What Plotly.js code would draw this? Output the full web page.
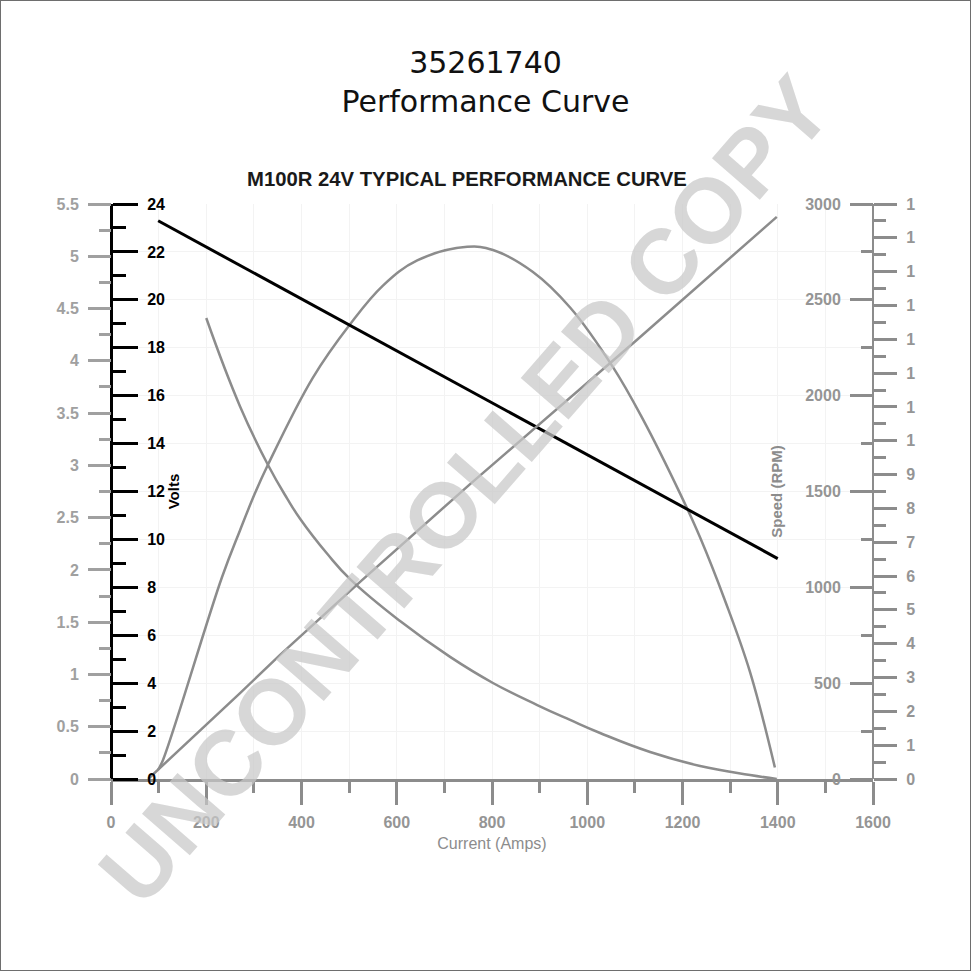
<!DOCTYPE html>
<html><head><meta charset="utf-8">
<script src="https://cdn.plot.ly/plotly-3.0.1.min.js"></script>
<style>
html,body{margin:0;padding:0;background:#fff;}
#frame{position:absolute;left:0;top:0;width:969px;height:969px;border:1px solid #6e6e6e;}
#chart{width:969px;height:969px;}
</style></head><body><div id="frame"><div id="chart"></div></div>
<script>
// ---- data ----
const voltsCurrent = [99, 1400];
const volts = [23.3, 9.2];

const powerCurrent = [99, 109, 233, 271, 302, 330, 424, 502, 571, 643, 748, 802, 886, 964, 1054, 1117, 1195, 1237, 1289, 1342, 1394];
const power = [0.09, 0.18, 1.93, 2.38, 2.73, 3.01, 3.84, 4.35, 4.72, 4.96, 5.09, 5.06, 4.85, 4.51, 3.94, 3.44, 2.73, 2.31, 1.71, 1.02, 0.11];

const speedCurrent = [200, 271, 330, 370, 397, 454, 502, 607, 712, 802, 895, 964, 1027, 1132, 1237, 1342, 1398];
const speed = [2405, 1944, 1637, 1463, 1358, 1175, 1043, 824, 637, 501, 386, 308, 240, 141, 68, 21, 0];

const torqueCurrent = [78, 107, 271, 355, 523, 754, 964, 1104, 1398];
const torque = [0, 0.38, 2.54, 3.67, 5.83, 8.72, 11.27, 12.98, 16.62];

const torqueTickVals = [0,1,2,3,4,5,6,7,8,9,10,11,12,13,14,15,16,17];
const torqueTickText = ["0","1","2","3","4","5","6","7","8","9","1","1","1","1","1","1","1","1"];

const titleText = "35261740<br>Performance Curve";
const chartTitle = "M100R 24V TYPICAL PERFORMANCE CURVE";
const watermark = "UNCONTROLLED COPY";

// ---- styling ----
const GREY = '#8c8c8c';
const LBL = '#959595';
const FONT = 'Liberation Sans, Arial, sans-serif';
const minorTorque = [];
for (let v = 0.5; v < 17; v += 1) minorTorque.push(v);

const traces = [
  {x: powerCurrent, y: power, yaxis: 'y', mode: 'lines', line: {color: GREY, width: 2.5, shape: 'spline', smoothing: 1.1}, name: 'Power'},
  {x: speedCurrent, y: speed, yaxis: 'y3', mode: 'lines', line: {color: GREY, width: 2.5, shape: 'spline', smoothing: 1.3}, name: 'Speed'},
  {x: torqueCurrent, y: torque, yaxis: 'y4', mode: 'lines', line: {color: GREY, width: 2.5}, name: 'Torque'},
  {x: voltsCurrent, y: volts, yaxis: 'y2', mode: 'lines', line: {color: '#000', width: 3}, name: 'Volts'}
];

const tickFontGrey = {family: FONT, size: 16, color: LBL, weight: 'bold'};

const layout = {
  width: 969, height: 969,
  margin: {l: 110, r: 97, t: 203, b: 191, pad: 0},
  paper_bgcolor: '#fff', plot_bgcolor: '#fff',
  showlegend: false,
  title: {text: titleText, font: {family: 'DejaVu Sans, sans-serif', size: 30, color: '#111'},
          x: 0.5, xref: 'container', xanchor: 'center', y: 0.926, yref: 'container', yanchor: 'top'},
  xaxis: {
    range: [0, 1600], tick0: 0, dtick: 200, ticks: 'outside', ticklen: 23, tickwidth: 3, tickcolor: GREY,
    showline: true, linecolor: GREY, linewidth: 3, zeroline: false,
    showgrid: true, gridcolor: '#f3f3f3', gridwidth: 1,
    minor: {dtick: 100, ticklen: 11, tickwidth: 3, tickcolor: GREY, showgrid: true, gridcolor: '#f3f3f3'},
    tickfont: tickFontGrey, ticklabelstandoff: 4,
    title: {text: 'Current (Amps)', font: {family: FONT, size: 16, color: GREY}, standoff: 8}
  },
  yaxis: {
    range: [0, 5.5], dtick: 0.5, anchor: 'free', position: 0, side: 'left',
    ticks: 'outside', ticklen: 23, tickwidth: 3, tickcolor: '#a0a0a0',
    showline: false, showgrid: false, zeroline: false,
    minor: {dtick: 0.25, ticklen: 12, tickwidth: 3, tickcolor: '#a0a0a0'},
    tickfont: {family: FONT, size: 16, color: '#a0a0a0', weight: 'bold'}, ticklabelstandoff: 6
  },
  yaxis2: {
    range: [0, 24], dtick: 2, overlaying: 'y', anchor: 'free', position: 0, side: 'right',
    ticks: 'outside', ticklen: 25, tickwidth: 3, tickcolor: '#000',
    showline: true, linecolor: '#000', linewidth: 3, zeroline: false,
    showgrid: true, gridcolor: '#f3f3f3',
    minor: {dtick: 1, ticklen: 13, tickwidth: 3, tickcolor: '#000'},
    tickfont: {family: FONT, size: 16, color: '#000', weight: 'bold'}, ticklabelstandoff: 6,
    title: {text: 'Volts', font: {family: FONT, size: 15, color: '#000', weight: 'bold'}, standoff: 0}
  },
  yaxis3: {
    range: [0, 3000], dtick: 500, overlaying: 'y', anchor: 'free', position: 1, side: 'left',
    ticks: 'outside', ticklen: 23, tickwidth: 3, tickcolor: GREY,
    showline: false, showgrid: false, zeroline: false,
    minor: {dtick: 250, ticklen: 12, tickwidth: 3, tickcolor: GREY},
    tickfont: tickFontGrey, ticklabelstandoff: 6,
    title: {text: 'Speed (RPM)', font: {family: FONT, size: 15, color: GREY, weight: 'bold'}, standoff: 17}
  },
  yaxis4: {
    range: [0, 17], overlaying: 'y', anchor: 'free', position: 1, side: 'right',
    tickmode: 'array', tickvals: torqueTickVals, ticktext: torqueTickText,
    ticks: 'outside', ticklen: 23, tickwidth: 3, tickcolor: GREY,
    showline: true, linecolor: GREY, linewidth: 2, showgrid: false, zeroline: false,
    minor: {tickmode: 'array', tickvals: minorTorque, ticklen: 12, tickwidth: 3, tickcolor: GREY},
    tickfont: tickFontGrey, ticklabelstandoff: 6
  },
  annotations: [
    {text: chartTitle, xref: 'paper', yref: 'paper', x: 0.467, y: 1.0435, xanchor: 'center', yanchor: 'middle',
     showarrow: false, font: {family: FONT, size: 20.3, color: '#1a1a1a', weight: 'bold'}},
    {text: watermark, xref: 'paper', yref: 'paper', x: 0.4646, y: 0.5026, xanchor: 'center', yanchor: 'middle',
     showarrow: false, textangle: -49, font: {family: FONT, size: 92, color: 'rgba(200,200,200,0.72)', weight: 'bold'}}
  ]
};

Plotly.newPlot('chart', traces, layout, {displayModeBar: false, staticPlot: true});
</script></body></html>
